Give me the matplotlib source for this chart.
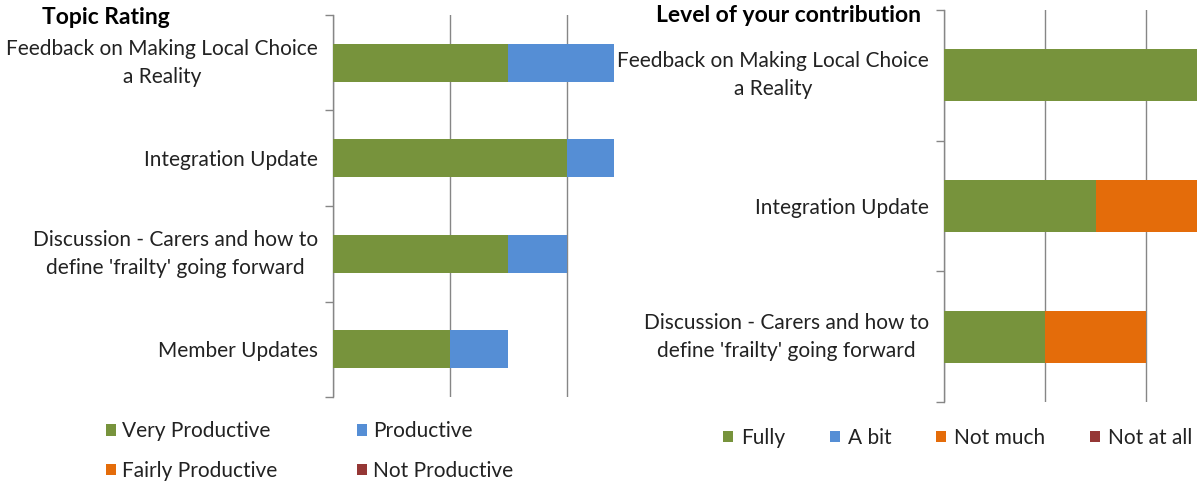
import matplotlib
matplotlib.use("Agg")
import matplotlib.pyplot as plt
import numpy as np
from matplotlib.patches import Patch

plt.rcParams['font.family'] = ['Lato', 'DejaVu Sans']

# ---- data ----
left_categories = ["Feedback on Making Local Choice\na Reality",
                   "Integration Update",
                   "Discussion - Carers and how to\ndefine 'frailty' going forward",
                   "Member Updates"]
left_series = ["Very Productive", "Productive", "Fairly Productive", "Not Productive"]
very_productive = [3, 4, 3, 2]
productive = [2, 1, 1, 1]
fairly_productive = [0, 0, 0, 0]
not_productive = [0, 0, 0, 0]

right_categories = ["Feedback on Making Local Choice\na Reality",
                    "Integration Update",
                    "Discussion - Carers and how to\ndefine 'frailty' going forward"]
right_series = ["Fully", "A bit", "Not much", "Not at all"]
fully = [5, 3, 2]
a_bit = [0, 0, 0]
not_much = [0, 2, 2]
not_at_all = [0, 0, 0]

colors = ["#77933C", "#558ED5", "#E46C0A", "#953735"]
grid_c = "#868686"
text_c = "#222222"
FS = 15

fig = plt.figure(figsize=(12.01, 4.86), dpi=100)


def draw(ax, cats, series_vals, xmax):
    y = np.arange(len(cats))
    left = np.zeros(len(cats))
    for vals, c in zip(series_vals, colors):
        v = np.array(vals, dtype=float)
        ax.barh(y, v, left=left, height=0.4, color=c, edgecolor='none', zorder=3)
        left += v
    ax.set_xlim(0, xmax)
    ax.set_ylim(len(cats) - 0.5, -0.5)
    ax.set_xticks(np.arange(0, xmax + 0.01, 2))
    ax.tick_params(axis='x', length=0, labelbottom=False)
    ax.grid(axis='x', color=grid_c, linewidth=1, zorder=0)
    ax.set_yticks(y)
    ax.set_yticklabels(cats, fontsize=FS, color=text_c, multialignment='center',
                       linespacing=1.5)
    for lab, cat in zip(ax.get_yticklabels(), cats):
        if "\n" in cat:
            lab.set_verticalalignment('center')
    ax.set_yticks(np.arange(-0.5, len(cats), 1), minor=True)
    ax.tick_params(axis='y', which='major', length=0, pad=11)
    ax.tick_params(axis='y', which='minor', length=6, width=1, color=grid_c, direction='out')
    for s in ['top', 'right', 'bottom']:
        ax.spines[s].set_visible(False)
    ax.spines['left'].set_color(grid_c)
    ax.spines['left'].set_linewidth(1)


axL = fig.add_axes([333 / 1201, 1 - 397 / 486, 280.6 / 1201, 382 / 486])
draw(axL, left_categories, [very_productive, productive, fairly_productive, not_productive], 4.8)

axR = fig.add_axes([944.3 / 1201, 1 - 402 / 486, 252.4 / 1201, 392 / 486])
draw(axR, right_categories, [fully, a_bit, not_much, not_at_all], 5.0)

fig.text(42 / 1201, 1 - 17 / 486, "Topic Rating", fontsize=16.5, fontweight='bold',
         color='black', ha='left', va='center')
fig.text(656 / 1201, 1 - 15 / 486, "Level of your contribution", fontsize=16.5,
         fontweight='bold', color='black', ha='left', va='center')

handles = [Patch(facecolor=c, edgecolor='none') for c in colors]
legL = fig.legend([handles[0], handles[2], handles[1], handles[3]],
                  [left_series[0], left_series[2], left_series[1], left_series[3]],
                  ncol=2, loc='center left', bbox_to_anchor=(106 / 1201, 1 - 451 / 486),
                  frameon=False, fontsize=FS, handlelength=0.48, handleheight=0.48,
                  handletextpad=0.3, columnspacing=3.8, labelspacing=0.95,
                  labelcolor=text_c, borderaxespad=0, borderpad=0)

legR = fig.legend(handles, right_series, ncol=4, loc='center left',
                  bbox_to_anchor=(723 / 1201, 1 - 438 / 486), frameon=False,
                  fontsize=FS, handlelength=0.48, handleheight=0.48, handletextpad=0.38,
                  columnspacing=2.15, labelcolor=text_c, borderaxespad=0, borderpad=0)

fig.savefig("out.png", dpi=100)
